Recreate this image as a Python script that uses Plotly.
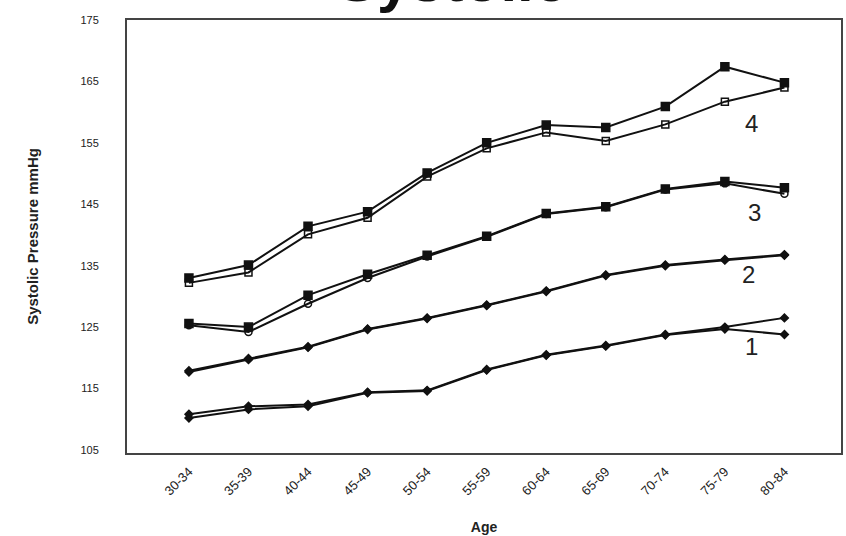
import plotly.graph_objects as go

age_groups = ["30-34", "35-39", "40-44", "45-49", "50-54", "55-59",
              "60-64", "65-69", "70-74", "75-79", "80-84"]

g1_a = [110.8, 112.1, 112.4, 114.4, 114.7, 118.1, 120.5, 122.0, 123.8, 125.0, 126.5]
g1_b = [110.2, 111.6, 112.1, 114.3, 114.6, 118.0, 120.4, 121.9, 123.7, 124.7, 123.8]
g2_a = [117.9, 119.9, 121.8, 124.7, 126.5, 128.6, 130.9, 133.5, 135.1, 136.0, 136.8]
g2_b = [117.7, 119.7, 121.7, 124.6, 126.4, 128.5, 130.8, 133.4, 135.0, 135.9, 136.7]
g3_a = [125.6, 125.0, 130.2, 133.6, 136.7, 139.8, 143.5, 144.6, 147.5, 148.7, 147.7]
g3_b = [125.3, 124.2, 128.8, 133.0, 136.5, 139.7, 143.4, 144.5, 147.4, 148.4, 146.7]
g4_a = [133.0, 135.1, 141.4, 143.8, 150.1, 155.0, 157.9, 157.5, 160.9, 167.4, 164.8]
g4_b = [132.2, 133.9, 140.1, 142.8, 149.5, 154.1, 156.7, 155.3, 158.0, 161.7, 164.0]

group_labels = ["1", "2", "3", "4"]
label_pos = [(9.45, 121.8), (9.4, 133.6), (9.5, 143.6), (9.45, 158.2)]

fig = go.Figure()
x = list(range(len(age_groups)))

def add(vals, symbol, size):
    fig.add_trace(go.Scatter(
        x=x, y=vals, mode="lines+markers",
        line=dict(color="#111111", width=2),
        marker=dict(symbol=symbol, size=size, color="#111111",
                    line=dict(color="#111111", width=1.5)),
        showlegend=False))

add(g1_a, "diamond", 6)
add(g1_b, "diamond", 6)
add(g2_a, "diamond", 6)
add(g2_b, "diamond", 6)
add(g3_a, "square", 8)
add(g3_b, "circle-open", 7)
add(g4_a, "square", 8)
add(g4_b, "square-open", 7)

for t, (px, py) in zip(group_labels, label_pos):
    fig.add_annotation(x=px, y=py, text=t, showarrow=False,
                       font=dict(family="Arial", size=24, color="#222222"))

fig.add_annotation(xref="paper", yref="paper", x=0.455, y=1.0,
                   yshift=4, xanchor="center", yanchor="bottom",
                   text="<b>Systolic</b>", showarrow=False,
                   font=dict(family="Arial", size=60, color="#111111"))

fig.update_layout(
    width=846, height=536,
    margin=dict(l=127, r=3, t=20, b=80),
    paper_bgcolor="white", plot_bgcolor="white",
    font=dict(family="Arial", color="#222222"),
)
fig.update_xaxes(
    tickmode="array", tickvals=x, ticktext=age_groups,
    range=[-1.04, 10.95], tickangle=-45,
    tickfont=dict(size=13, family="Arial", color="#222222"),
    ticklabelstandoff=4,
    showline=True, mirror=True, linecolor="#444444", linewidth=2,
    showgrid=False, zeroline=False, ticks="",
    title=dict(text="<b>Age</b>", font=dict(size=14), standoff=25),
)
fig.update_yaxes(
    tickmode="array", tickvals=[105, 115, 125, 135, 145, 155, 165, 175],
    range=[104.5, 175],
    tickfont=dict(size=11, family="Arial", color="#222222"),
    ticklabelstandoff=24,
    showline=True, mirror=True, linecolor="#444444", linewidth=2,
    showgrid=False, zeroline=False, ticks="",
    title=dict(text="<b>Systolic Pressure mmHg</b>", font=dict(size=15), standoff=38),
)

fig.write_html("out.html", config={"displayModeBar": False},
               post_script="document.body.style.margin='0';document.body.style.padding='0';")
